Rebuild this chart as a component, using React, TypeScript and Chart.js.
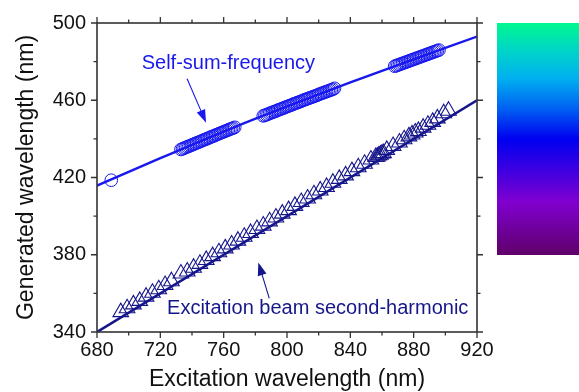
import React, { useEffect, useRef } from 'react';
import { Chart, registerables } from 'chart.js';

Chart.register(...registerables);

const FONT = '"Liberation Sans", Arial, sans-serif';

// Self-sum-frequency fitted curve
const SSF_LINE_X = [680, 720, 760, 800, 840, 880, 920];
const SSF_LINE_Y = [415.8, 430.0, 443.8, 456.8, 469.2, 481.2, 493.0];

// Second-harmonic fitted line
const SH_LINE_X = [680, 920];
const SH_LINE_Y = [340, 460];

// Self-sum-frequency measured points (circles)
const SSF_X = [
  689,
  733, 734, 735, 736, 737, 738, 739, 740, 741, 742, 743, 744, 745, 746, 747, 748, 749, 750,
  751, 752, 753, 754, 755, 756, 757, 758, 759, 760, 761, 762, 763, 764, 765, 766, 767,
  785, 786, 787, 788, 789, 790, 791, 792, 793, 794, 795, 796, 797, 798, 799, 800, 801, 802,
  803, 804, 805, 806, 807, 808, 809, 810, 811, 812, 813, 814, 815, 816, 817, 818, 819, 820,
  821, 822, 823, 824, 825, 826, 827, 828, 829, 830,
  868, 869, 870, 871, 872, 873, 874, 875, 876, 877, 878, 879, 880, 881, 882, 883, 884, 885,
  886, 887, 888, 889, 890, 891, 892, 893, 894, 895, 896,
];
const SSF_Y = [
  418.6,
  434.5, 434.8, 435.2, 435.5, 435.9, 436.2, 436.5, 436.9, 437.2, 437.6, 437.9, 438.2, 438.6, 438.9, 439.3, 439.6, 439.9, 440.3,
  440.6, 441.0, 441.3, 441.6, 442.0, 442.3, 442.7, 443.0, 443.3, 443.7, 444.0, 444.3, 444.7, 445.0, 445.3, 445.6, 446.0,
  451.9, 452.2, 452.5, 452.8, 453.2, 453.5, 453.8, 454.1, 454.4, 454.8, 455.1, 455.4, 455.7, 456.0, 456.4, 456.7, 457.0, 457.3,
  457.6, 458.0, 458.3, 458.6, 458.9, 459.2, 459.5, 459.9, 460.2, 460.5, 460.8, 461.1, 461.4, 461.7, 462.0, 462.3, 462.6, 463.0,
  463.3, 463.6, 463.9, 464.2, 464.5, 464.8, 465.1, 465.4, 465.7, 466.2,
  477.6, 477.9, 478.2, 478.5, 478.8, 479.1, 479.4, 479.7, 480.0, 480.3, 480.6, 480.9, 481.2, 481.5, 481.8, 482.1, 482.4, 482.7,
  483.0, 483.3, 483.6, 483.9, 484.2, 484.5, 484.8, 485.1, 485.4, 485.7, 486.0,
];

// Second-harmonic measured points (triangles)
const SH_X = [
  695, 699, 703, 707, 711, 715, 719, 723, 727, 733, 737, 741, 745, 749, 753, 757, 761, 765,
  769, 773, 777, 781, 785, 789, 793, 797, 801, 805, 809, 813, 817, 821, 825, 829, 833, 837,
  841, 845, 849, 853, 856, 857, 858, 859, 860, 861, 863, 867, 871, 874, 877, 879, 881, 883,
  886, 889, 892, 895, 899, 902,
];
const SH_Y = [
  350.3, 352.3, 354.3, 356.1, 358.3, 360.3, 362.1, 364.3, 366.3, 370.3, 371.3, 373.3, 375.3, 377.3, 379.3, 381.3, 383.3, 385.3,
  387.3, 389.3, 391.3, 393.3, 395.1, 397.3, 399.3, 401.3, 403.1, 405.3, 407.3, 409.1, 411.3, 413.3, 415.1, 417.3, 419.3, 421.1,
  423.3, 425.3, 427.1, 429.3, 430.6, 430.8, 431.4, 431.8, 432.4, 432.6, 434.3, 436.3, 438.1, 439.8, 441.3, 442.3, 443.3, 444.1,
  445.8, 447.3, 448.8, 450.6, 453.3, 454.6,
];

const X_MAJOR = [680, 720, 760, 800, 840, 880, 920];
const X_MINOR = [700, 740, 780, 820, 860, 900];
const Y_MAJOR = [340, 380, 420, 460, 500];
const Y_MINOR = [360, 400, 440, 480];

const SSF_COLOR = '#1818ee';
const SH_COLOR = '#16168c';

export default function App() {
  const ref = useRef<HTMLCanvasElement>(null);

  useEffect(() => {
    document.body.style.margin = '0';
    const canvas = ref.current!;

    const arrow = (ctx: CanvasRenderingContext2D, x1: number, y1: number, x2: number, y2: number, color: string) => {
      const ang = Math.atan2(y2 - y1, x2 - x1);
      const hl = 13, hw = 4.5;
      ctx.save();
      ctx.strokeStyle = color;
      ctx.fillStyle = color;
      ctx.lineWidth = 1.1;
      ctx.beginPath();
      ctx.moveTo(x1, y1);
      ctx.lineTo(x2 - Math.cos(ang) * hl * 0.8, y2 - Math.sin(ang) * hl * 0.8);
      ctx.stroke();
      ctx.beginPath();
      ctx.moveTo(x2, y2);
      ctx.lineTo(x2 - Math.cos(ang) * hl - Math.sin(ang) * hw, y2 - Math.sin(ang) * hl + Math.cos(ang) * hw);
      ctx.lineTo(x2 - Math.cos(ang) * hl + Math.sin(ang) * hw, y2 - Math.sin(ang) * hl - Math.cos(ang) * hw);
      ctx.closePath();
      ctx.fill();
      ctx.restore();
    };

    const annotations = {
      id: 'annotations',
      afterDatasetsDraw(chart: any) {
        const ctx = chart.ctx as CanvasRenderingContext2D;
        const xs = chart.scales.x, ys = chart.scales.y;
        ctx.save();
        ctx.font = `20px ${FONT}`;
        ctx.textAlign = 'center';
        ctx.textBaseline = 'middle';
        ctx.fillStyle = SSF_COLOR;
        ctx.fillText('Self-sum-frequency', xs.getPixelForValue(763), ys.getPixelForValue(479.2));
        ctx.fillStyle = SH_COLOR;
        ctx.fillText('Excitation beam second-harmonic', xs.getPixelForValue(819.4), ys.getPixelForValue(352.2));
        ctx.restore();
        arrow(ctx, xs.getPixelForValue(736.9), ys.getPixelForValue(471.1), xs.getPixelForValue(748.9), ys.getPixelForValue(448.4), SSF_COLOR);
        arrow(ctx, xs.getPixelForValue(788.8), ys.getPixelForValue(357.4), xs.getPixelForValue(781.9), ys.getPixelForValue(376.0), SH_COLOR);
      },
    };

    const frame = {
      id: 'frame',
      afterDraw(chart: any) {
        const ctx = chart.ctx as CanvasRenderingContext2D;
        const { left, right, top, bottom } = chart.chartArea;
        const xs = chart.scales.x, ys = chart.scales.y;
        ctx.save();
        ctx.strokeStyle = '#333';
        ctx.lineWidth = 1.6;
        ctx.strokeRect(left, top, right - left, bottom - top);
        ctx.lineWidth = 1.3;
        ctx.beginPath();
        const tick = (vals: number[], len: number) => {
          vals.forEach((v) => {
            const px = xs.getPixelForValue(v);
            ctx.moveTo(px, bottom); ctx.lineTo(px, bottom + len);
            ctx.moveTo(px, top); ctx.lineTo(px, top - len);
          });
        };
        const tickY = (vals: number[], len: number) => {
          vals.forEach((v) => {
            const py = ys.getPixelForValue(v);
            ctx.moveTo(left, py); ctx.lineTo(left - len, py);
            ctx.moveTo(right, py); ctx.lineTo(right + len, py);
          });
        };
        tick(X_MAJOR, 6); tick(X_MINOR, 3.5);
        tickY(Y_MAJOR, 6); tickY(Y_MINOR, 3.5);
        ctx.stroke();

        // colour bar
        const cbL = right + 20, cbT = top, cbB = 255, cbR = 579;
        const g = ctx.createLinearGradient(0, cbT, 0, cbB);
        g.addColorStop(0, '#00f890');
        g.addColorStop(0.12, '#00d4c8');
        g.addColorStop(0.24, '#00b0f0');
        g.addColorStop(0.37, '#0060f2');
        g.addColorStop(0.5, '#0000f0');
        g.addColorStop(0.64, '#4000e0');
        g.addColorStop(0.77, '#8000d0');
        g.addColorStop(0.88, '#7000a0');
        g.addColorStop(1, '#600068');
        ctx.fillStyle = g;
        ctx.fillRect(cbL, cbT, cbR - cbL, cbB - cbT);
        ctx.restore();
      },
    };

    const chart = new Chart(canvas, {
      type: 'scatter',
      data: {
        datasets: [
          {
            data: SH_LINE_X.map((x, i) => ({ x, y: SH_LINE_Y[i] })),
            showLine: true,
            borderColor: SH_COLOR,
            borderWidth: 2.6,
            pointRadius: 0,
          },
          {
            data: SSF_LINE_X.map((x, i) => ({ x, y: SSF_LINE_Y[i] })),
            showLine: true,
            borderColor: SSF_COLOR,
            borderWidth: 2.4,
            pointRadius: 0,
            tension: 0.3,
          },
          {
            data: SH_X.map((x, i) => ({ x, y: SH_Y[i] })),
            pointStyle: 'triangle',
            pointRadius: 9,
            borderColor: SH_COLOR,
            backgroundColor: 'rgba(255,255,255,0)',
            borderWidth: 1.1,
          },
          {
            data: SSF_X.map((x, i) => ({ x, y: SSF_Y[i] })),
            pointStyle: 'circle',
            pointRadius: 6.3,
            borderColor: SSF_COLOR,
            backgroundColor: 'rgba(255,255,255,0)',
            borderWidth: 1,
          },
        ],
      },
      options: {
        responsive: false,
        animation: false,
        layout: { padding: { top: 21, right: 102, left: 0, bottom: 0 } },
        plugins: { legend: { display: false }, tooltip: { enabled: false } },
        scales: {
          x: {
            type: 'linear',
            min: 680,
            max: 920,
            grid: { display: false, drawTicks: false, tickLength: 0 },
            border: { display: false },
            ticks: {
              stepSize: 20,
              autoSkip: false,
              maxRotation: 0,
              padding: 6,
              color: '#111',
              font: { family: FONT, size: 20 },
              callback: (v: any) => ((Number(v) - 680) % 40 === 0 ? String(v) : ''),
            },
            title: {
              display: true,
              text: 'Excitation wavelength (nm)',
              color: '#111',
              font: { family: FONT, size: 23, lineHeight: 1.05 },
              padding: { top: 0, bottom: 0 },
            },
            afterFit: (s: any) => { s.height = 60; },
          },
          y: {
            type: 'linear',
            min: 340,
            max: 500,
            grid: { display: false, drawTicks: false, tickLength: 0 },
            border: { display: false },
            ticks: {
              stepSize: 20,
              autoSkip: false,
              padding: 11,
              color: '#111',
              font: { family: FONT, size: 20 },
              callback: (v: any) => ((Number(v) - 340) % 40 === 0 ? String(v) : ''),
            },
            title: {
              display: true,
              text: 'Generated wavelength (nm)',
              color: '#111',
              font: { family: FONT, size: 23, lineHeight: 1.05 },
              padding: { top: 15, bottom: 0 },
            },
            afterFit: (s: any) => { s.width = 97; },
          },
        },
      },
      plugins: [annotations, frame],
    });
    return () => chart.destroy();
  }, []);

  return (
    <div style={{ width: 579, height: 392 }}>
      <canvas ref={ref} width={579} height={392} style={{ display: 'block' }} />
    </div>
  );
}
